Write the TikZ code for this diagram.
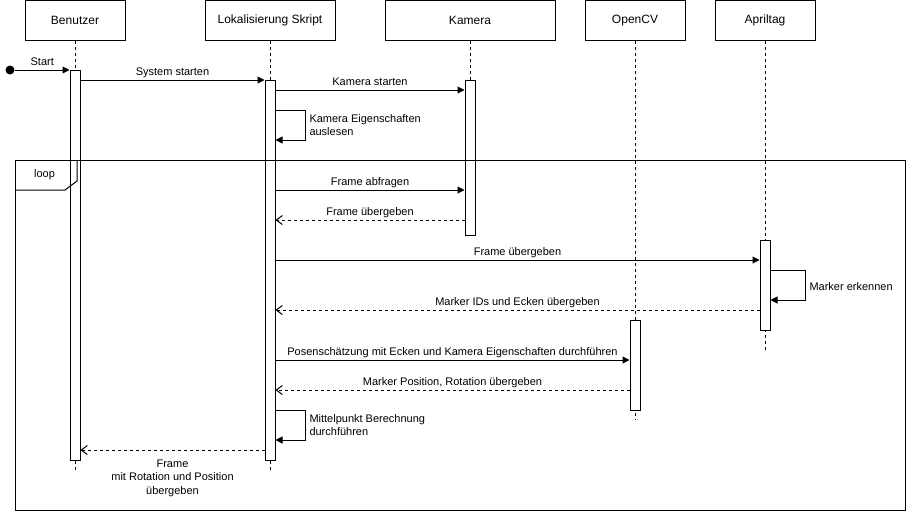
\documentclass[tikz,border=0pt]{standalone}
\usepackage{fontspec}
\setmainfont{Liberation Sans}
\usetikzlibrary{positioning, arrows.meta}
\tikzset{
  party/.style = {rectangle, draw, minimum width=100pt, minimum height=40pt, font=\fontsize{12}{14}\selectfont},
  act/.style   = {rectangle, draw, fill=white, minimum width=10pt, inner sep=0pt},
  life/.style  = {dash pattern=on 3pt off 3pt},
  msg/.style   = {-{Triangle[length=7pt, width=7pt]}},
  ret/.style   = {dash pattern=on 3pt off 3pt, -{Straight Barb[length=6pt, width=9pt]}},
  lbl/.style   = {font=\fontsize{11}{13.5}\selectfont, inner sep=0pt},
  over/.style  = {lbl, midway, anchor=base, yshift=5pt}
}

\begin{document}
\begin{tikzpicture}[x=1pt, y=-1pt, line width=1pt]
  \useasboundingbox (0,0) rectangle (907,512);
  % participants
  \node[party] (ben) at (75,20.5)  {Benutzer};
  \node[party, minimum width=130pt] (lok) at (270,20.5) {Lokalisierung Skript};
  \node[party, minimum width=170pt] (kam) at (470,20.5) {Kamera};
  \node[party] (cv)  at (635,20.5) {OpenCV};
  \node[party] (apr) at (765,20.5) {Apriltag};

  % lifelines
  \draw[life] (ben.south) -- (ben.south |- 0,470);
  \draw[life] (lok.south) -- (lok.south |- 0,470);
  \draw[life] (kam.south) -- (kam.south |- 0,80);
  \draw[life] (cv.south)  -- (cv.south |- 0,420);
  \draw[life] (apr.south) -- (apr.south |- 0,350);

  % activations
  \node[act, minimum height=390pt] (benAct) at (75,265)    {};
  \node[act, minimum height=380pt] (lokAct) at (270,270)   {};
  \node[act, minimum height=155pt] (kamAct) at (470,157.5) {};
  \node[act, minimum height=90pt]  (aprAct) at (765,285)   {};
  \node[act, minimum height=90pt]  (cvAct)  at (635,365)   {};

  % start
  \node[circle, fill, inner sep=0pt, minimum size=9pt] (start) at (10,70) {};
  \draw[msg] (start) -- node[over]{Start} (benAct.west |- 0,70);
  \draw[msg] (benAct.east |- 0,80) -- node[over]{System starten} (lokAct.west |- 0,80);
  \draw[msg] (lokAct.east |- 0,90) -- node[over]{Kamera starten} (kamAct.west |- 0,90);
  \draw[msg] (lokAct.east |- 0,110) -- ++(30,0) -- ++(0,30) -- (lokAct.east |- 0,140);
  \node[lbl, anchor=west, align=left] (eigLbl) at (309,125) {Kamera Eigenschaften\\auslesen};

  % loop
  \draw (15,160) rectangle (905,510);
  \draw (15,190) -- (65,190) -- (77,181) -- (77,160);
  \node[lbl] (loopLbl) at (44.5,175) {loop};

  \draw[msg] (lokAct.east |- 0,190) -- node[over]{Frame abfragen} (kamAct.west |- 0,190);
  \draw[ret] (kamAct.west |- 0,220) -- node[over]{Frame übergeben} (lokAct.east |- 0,220);
  \draw[msg] (lokAct.east |- 0,260) -- node[over]{Frame übergeben} (aprAct.west |- 0,260);
  \draw[msg] (aprAct.east |- 0,270) -- ++(35,0) -- ++(0,30) -- (aprAct.east |- 0,300);
  \node[lbl, anchor=west] (mrkLbl) at (809,287) {Marker erkennen};
  \draw[ret] (aprAct.west |- 0,310) -- node[over]{Marker IDs und Ecken übergeben} (lokAct.east |- 0,310);
  \draw[msg] (lokAct.east |- 0,360) -- node[over]{Posenschätzung mit Ecken und Kamera Eigenschaften durchführen} (cvAct.west |- 0,360);
  \draw[ret] (cvAct.west |- 0,390) -- node[over]{Marker Position, Rotation übergeben} (lokAct.east |- 0,390);
  \draw[msg] (lokAct.east |- 0,410) -- ++(30,0) -- ++(0,30) -- (lokAct.east |- 0,440);
  \node[lbl, anchor=west, align=left] (mitLbl) at (309,425) {Mittelpunkt Berechnung\\durchführen};
  \draw[ret] (lokAct.west |- 0,450) -- (benAct.east |- 0,450);
  \node[lbl, align=center] (frmLbl) at (172.5,478) {Frame\\mit Rotation und Position\\übergeben};
\end{tikzpicture}
\end{document}
